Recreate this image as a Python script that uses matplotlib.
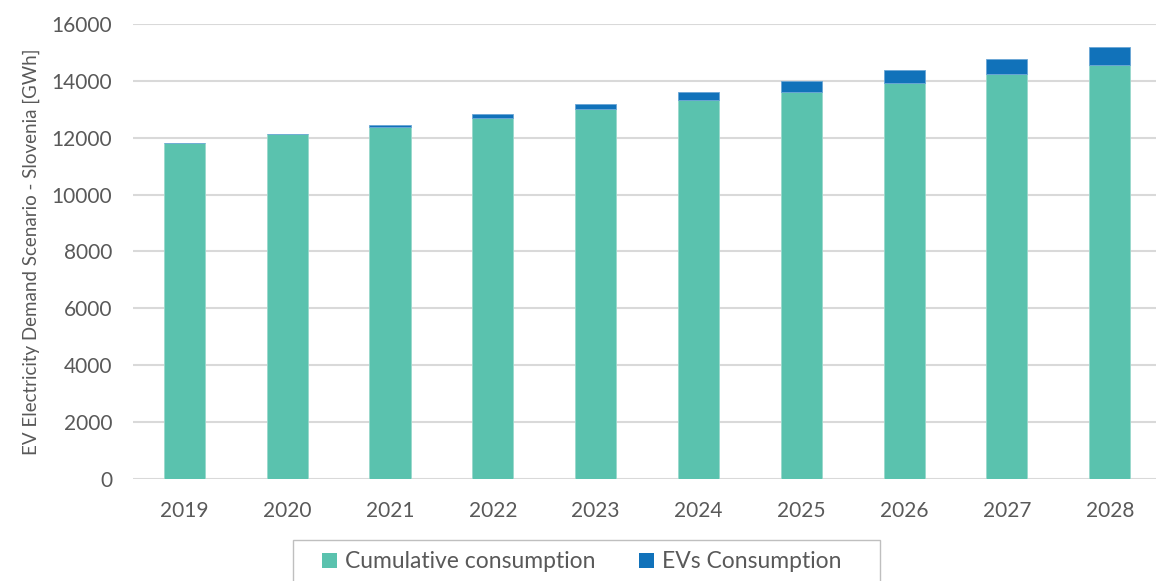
import numpy as np
import matplotlib.pyplot as plt
from matplotlib.patches import Patch, Rectangle

# EV electricity demand scenario, Slovenia (GWh)
years = ["2019", "2020", "2021", "2022", "2023", "2024", "2025", "2026", "2027", "2028"]
cumulative = [11800, 12120, 12380, 12685, 13010, 13320, 13620, 13935, 14250, 14570]
ev_consumption = [8, 12, 65, 140, 176, 280, 370, 435, 517, 622]

green = "#5AC2AE"
blue = "#1172BA"
text_col = "#595959"

plt.rcParams["font.family"] = ["Lato", "DejaVu Sans"]

fig = plt.figure(figsize=(11.56, 5.81), dpi=100)
ax = fig.add_axes([0.115, 0.1756, 0.885, 0.7831])

x = np.arange(len(years))
ax.bar(x, cumulative, width=0.4, color=green, edgecolor="#9ad8cc", linewidth=0.6, zorder=3)
ax.bar(x, ev_consumption, width=0.4, bottom=cumulative, color=blue,
       edgecolor="#6aa6d6", linewidth=0.6, zorder=3)

ax.set_xlim(-0.5, 9.45)
ax.set_ylim(0, 16000)
ax.set_yticks(range(0, 16001, 2000))
ax.set_xticks(x)
ax.set_xticklabels(years)
ax.yaxis.grid(True, color="#D9D9D9", linewidth=1.5, zorder=0)
for s in ax.spines.values():
    s.set_visible(False)
ax.tick_params(axis="both", length=0, labelsize=15, colors=text_col)
ax.tick_params(axis="x", pad=16)
ax.tick_params(axis="y", pad=15)
ax.set_ylabel("EV Electricity Demand Scenario - Slovenia [GWh]", fontsize=13.5,
              color=text_col, labelpad=8)

# legend box runs off the bottom edge, so draw its frame separately
fig.patches.append(Rectangle((0.2535, -0.05), 0.508, 0.12, transform=fig.transFigure,
                             facecolor="white", edgecolor="#BFBFBF", linewidth=1.0))
handles = [Patch(facecolor=green, label="Cumulative consumption"),
           Patch(facecolor=blue, label="EVs Consumption")]
fig.legend(handles=handles, loc="center", bbox_to_anchor=(0.503, 0.033),
           borderaxespad=0, ncol=2, frameon=False, fontsize=16.5,
           handlelength=0.65, handleheight=0.65, handletextpad=0.35,
           columnspacing=1.9, borderpad=0, labelcolor=text_col)

fig.savefig("out.png", dpi=100)
